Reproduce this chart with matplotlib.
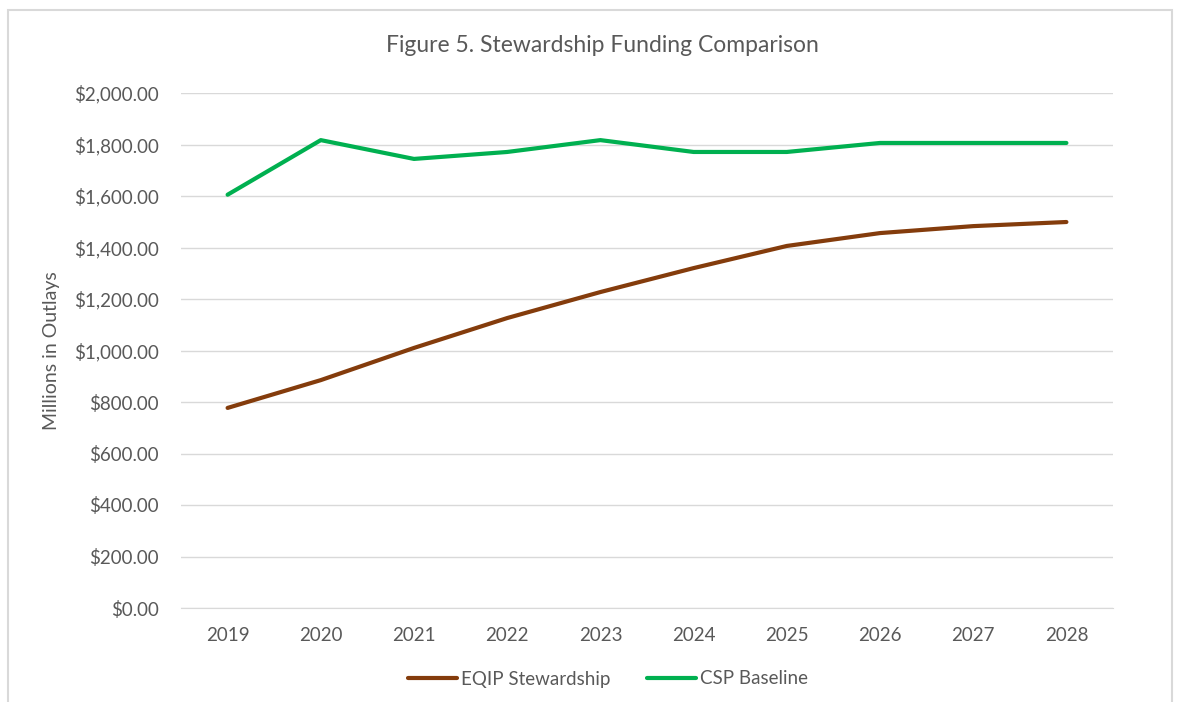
import matplotlib.pyplot as plt
from matplotlib.patches import Rectangle
from matplotlib.ticker import FuncFormatter

years = ['2019', '2020', '2021', '2022', '2023', '2024', '2025', '2026', '2027', '2028']
eqip = [777, 885, 1010, 1126, 1227, 1320, 1406, 1456, 1483, 1499]
csp = [1605, 1817, 1744, 1771, 1817, 1771, 1771, 1806, 1806, 1806]

plt.rcParams['font.family'] = ['Lato', 'DejaVu Sans']
grey = '#595959'

fig = plt.figure(figsize=(11.79, 7.02), dpi=100)
W, H = 1179, 702
ax = fig.add_axes([181 / W, 1 - 608 / H, (1113 - 181) / W, (608 - 93) / H])

# chart border
fig.patches.append(Rectangle((8 / W, -0.01), (1172 - 8) / W, 1 - 10 / H + 0.01,
                             transform=fig.transFigure, fill=False,
                             edgecolor='#d9d9d9', linewidth=1.5))

x = range(len(years))
ax.plot(x, eqip, color='#843C0C', linewidth=3, label='EQIP Stewardship', solid_capstyle='round')
ax.plot(x, csp, color='#00B050', linewidth=3, label='CSP Baseline', solid_capstyle='round')

ax.set_xlim(-0.5, len(years) - 0.5)
ax.set_ylim(0, 2000)
ax.set_yticks(range(0, 2001, 200))
ax.yaxis.set_major_formatter(FuncFormatter(lambda v, p: '${:,.2f}'.format(v)))
ax.set_xticks(list(x))
ax.set_xticklabels(years)
ax.grid(axis='y', color='#d9d9d9', linewidth=1)
ax.set_axisbelow(True)
for s in ['top', 'right', 'left']:
    ax.spines[s].set_visible(False)
ax.spines['bottom'].set_color('#d9d9d9')
ax.tick_params(length=0, colors=grey, labelsize=13.5)
ax.tick_params(axis='y', pad=16)
ax.tick_params(axis='x', pad=14)

ax.set_ylabel('Millions in Outlays', color=grey, fontsize=14, labelpad=10)
fig.text(602 / W, 1 - 45 / H, 'Figure 5. Stewardship Funding Comparison',
         ha='center', va='center', color=grey, fontsize=16.5)

fig.legend(loc='center', bbox_to_anchor=(608 / W, 1 - 679 / H), ncol=2, frameon=False,
           fontsize=13.5, labelcolor=grey, handlelength=2.6, handletextpad=0.2, columnspacing=2)

fig.savefig('out.png', dpi=100, facecolor='white')
